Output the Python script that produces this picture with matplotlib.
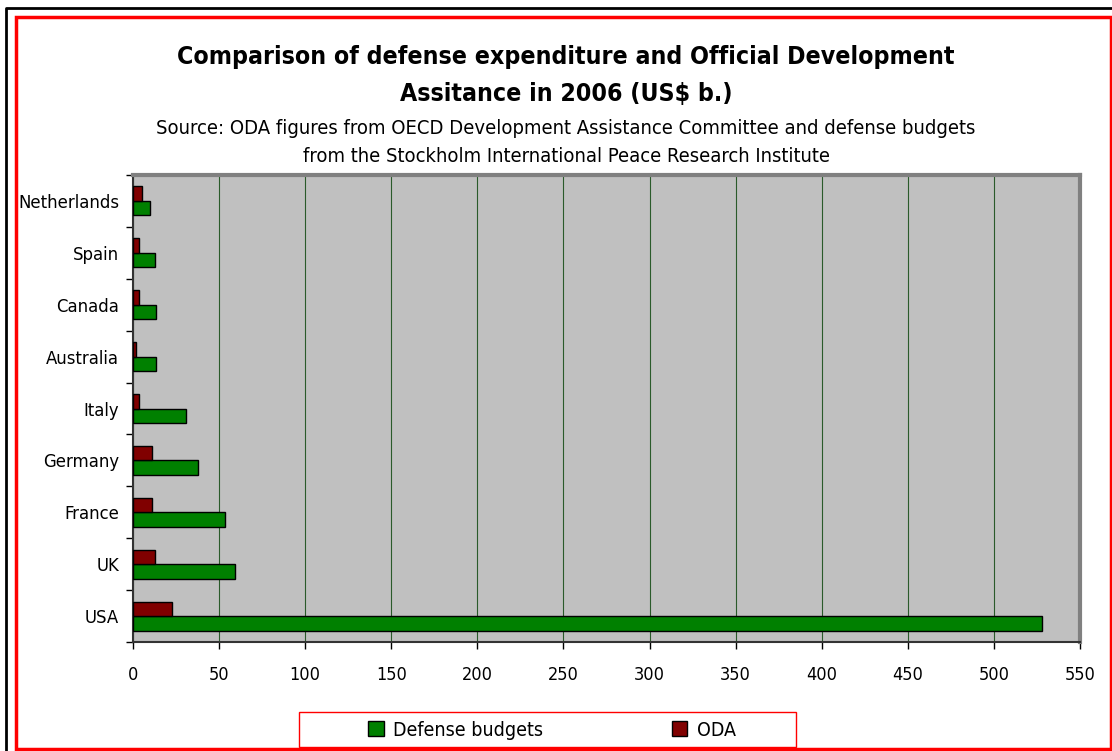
import matplotlib.pyplot as plt
from matplotlib.patches import Rectangle, Patch
from matplotlib.lines import Line2D
import numpy as np

# === Data (US$ billions, 2006) ===
countries = ["USA", "UK", "France", "Germany", "Italy",
             "Australia", "Canada", "Spain", "Netherlands"]
defense = [528.2, 59.3, 53.6, 37.8, 30.8, 13.5, 13.5, 12.8, 10.1]
oda = [22.5, 12.6, 11.0, 11.0, 3.7, 1.9, 3.7, 3.7, 5.4]

W, H = 1112, 751
fig = plt.figure(figsize=(W / 100, H / 100), dpi=100)
plt.rcParams["font.family"] = "DejaVu Sans"
font = dict(family="DejaVu Sans", stretch="condensed")

# plot area in pixels: left 133, right 1080, top 175, bottom 642
ax = fig.add_axes([133 / W, 1 - 642 / H, (1080 - 133) / W, (642 - 175) / H])
ax.set_facecolor("#c0c0c0")

y = np.arange(len(countries))
h = 0.28
ax.barh(y - h / 2, defense, height=h, color="#008000", edgecolor="black",
        linewidth=1, zorder=3)
ax.barh(y + h / 2, oda, height=h, color="#800000", edgecolor="black",
        linewidth=1, zorder=3)

ax.set_xlim(0, 550)
ax.set_ylim(-0.5, len(countries) - 0.5)
ax.set_xticks(np.arange(0, 551, 50))
ax.set_yticks(y)
ax.set_yticklabels(countries, fontsize=13.2, **font)
for lab in ax.get_xticklabels():
    lab.set_fontsize(13)
    lab.set_fontfamily("DejaVu Sans")
    lab.set_fontstretch("condensed")
ax.set_yticks(np.arange(-0.5, len(countries), 1), minor=True)
ax.tick_params(axis="y", which="major", length=0, pad=10)
ax.tick_params(axis="y", which="minor", length=5, direction="out", width=1)
ax.tick_params(axis="x", length=5, direction="out", width=1, pad=12)

ax.grid(axis="x", color="#2a5a2a", linewidth=0.8, zorder=1)
ax.set_axisbelow(True)

for side in ("top", "right"):
    ax.spines[side].set_color("#808080")
    ax.spines[side].set_linewidth(3)
for side in ("left", "bottom"):
    ax.spines[side].set_color("#333333")
    ax.spines[side].set_linewidth(1.5)

# titles
fig.text(566 / W, 1 - 57 / H, "Comparison of defense expenditure and Official Development",
         ha="center", va="center", fontsize=17.8, fontweight="bold", **font)
fig.text(566 / W, 1 - 94 / H, "Assitance in 2006 (US$ b.)",
         ha="center", va="center", fontsize=17.8, fontweight="bold", **font)
fig.text(566 / W, 1 - 129 / H,
         "Source: ODA figures from OECD Development Assistance Committee and defense budgets",
         ha="center", va="center", fontsize=14.5, **font)
fig.text(566 / W, 1 - 157 / H,
         "from the Stockholm International Peace Research Institute",
         ha="center", va="center", fontsize=14.5, **font)

# legend with its own red box
fig.patches.append(Rectangle((299 / W, 1 - 747 / H), (796 - 299) / W, 35 / H,
                             transform=fig.transFigure, facecolor="white",
                             edgecolor="red", linewidth=1))
handles = [Patch(facecolor="#008000", edgecolor="black", label="Defense budgets"),
           Patch(facecolor="#800000", edgecolor="black", label="ODA")]
fig.legend(handles=handles, loc="center", bbox_to_anchor=(552 / W, 1 - 730 / H),
           ncol=2, frameon=False, prop=dict(size=14, family="DejaVu Sans", stretch="condensed"),
           handlelength=0.8, handleheight=0.8, handletextpad=0.5, columnspacing=6.6)

# outer frame lines
fig.lines.append(Line2D([6 / W, 6 / W, 1], [0, 1 - 7.5 / H, 1 - 7.5 / H],
                        transform=fig.transFigure, color="black", linewidth=2))
fig.patches.append(Rectangle((15.5 / W, 1 - 749 / H), (1110.5 - 15.5) / W, (749 - 17) / H,
                             transform=fig.transFigure, facecolor="none",
                             edgecolor="red", linewidth=2.5))

fig.savefig("out.png", dpi=100)
